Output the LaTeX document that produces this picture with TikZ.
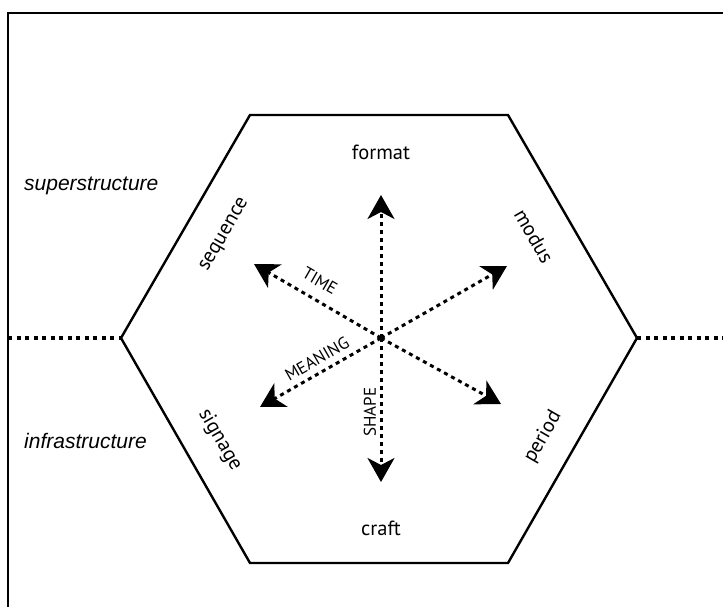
\documentclass[tikz,border=0pt]{standalone}
\usepackage{fontspec}
\setmainfont{PT Sans}
\newfontfamily\arialish{Liberation Sans}
\usetikzlibrary{arrows.meta}
\begin{document}
\begin{tikzpicture}[x=1pt,y=-1pt,
  frameline/.style={line width=1.6pt},
  hexline/.style={line width=2.4pt, line join=miter},
  sideline/.style={line width=3.6pt, dash pattern=on 4pt off 4.5pt},
  axisarrow/.style={line width=3pt, dash pattern=on 4pt off 4pt,
    -{Stealth[length=24pt,width=27pt,inset=7pt]}},
  facelabel/.style={font=\fontsize{20.5}{20.5}\selectfont, inner sep=0pt},
  axislabel/.style={font=\fontsize{17}{17}\selectfont, inner sep=0pt},
  sidelabel/.style={font=\arialish\itshape\fontsize{21}{21}\selectfont, inner sep=0pt, anchor=west}]
  \useasboundingbox (0,0) rectangle (723,607);
  \clip (0,0) rectangle (723,607);
  % outer frame (runs past the right and bottom edges)
  \draw[frameline] (8,740) -- (8,13) -- (760,13);

  % hexagon corners
  \coordinate (hL)  at (121,338);
  \coordinate (hTL) at (250,115);
  \coordinate (hTR) at (508,115);
  \coordinate (hR)  at (637,338);
  \coordinate (hBR) at (508,563);
  \coordinate (hBL) at (250,563);
  \draw[hexline] (hL) -- (hTL) -- (hTR) -- (hR) -- (hBR) -- (hBL) -- cycle;

  % dotted divider between the two levels
  \coordinate (eL) at (8,338);
  \coordinate (eR) at (723,338);
  \draw[sideline] (eL) -- (hL);
  \draw[sideline] (hR) -- (eR);

  % axes
  \coordinate (c)   at (381,338);
  \coordinate (tU)  at (381,195);
  \coordinate (tD)  at (381,482);
  \coordinate (tUL) at (254,264);
  \coordinate (tUR) at (507,266);
  \coordinate (tLL) at (260,407);
  \coordinate (tLR) at (501,404);
  \foreach \t in {tU,tD,tUL,tUR,tLL,tLR}
    \draw[axisarrow] (c) -- (\t);

  % face labels
  \node[facelabel] (format)   at (381,152) {format};
  \node[facelabel] (craft)    at (381,528) {craft};
  \node[facelabel, rotate=60]  (sequence) at (225,235) {sequence};
  \node[facelabel, rotate=-60] (modus)    at (534,236) {modus};
  \node[facelabel, rotate=-60] (signage)  at (220,440) {signage};
  \node[facelabel, rotate=60]  (period)   at (543,437) {period};

  % axis labels
  \node[axislabel, rotate=-30] (time)    at (320,281) {TIME};
  \node[axislabel, rotate=30]  (meaning) at (317,359) {MEANING};
  \node[axislabel, rotate=90]  (shape)   at (370,412) {SHAPE};

  % level labels
  \node[sidelabel] (super) at (24,186) {superstructure};
  \node[sidelabel] (infra) at (24,441) {infrastructure};
\end{tikzpicture}
\end{document}
